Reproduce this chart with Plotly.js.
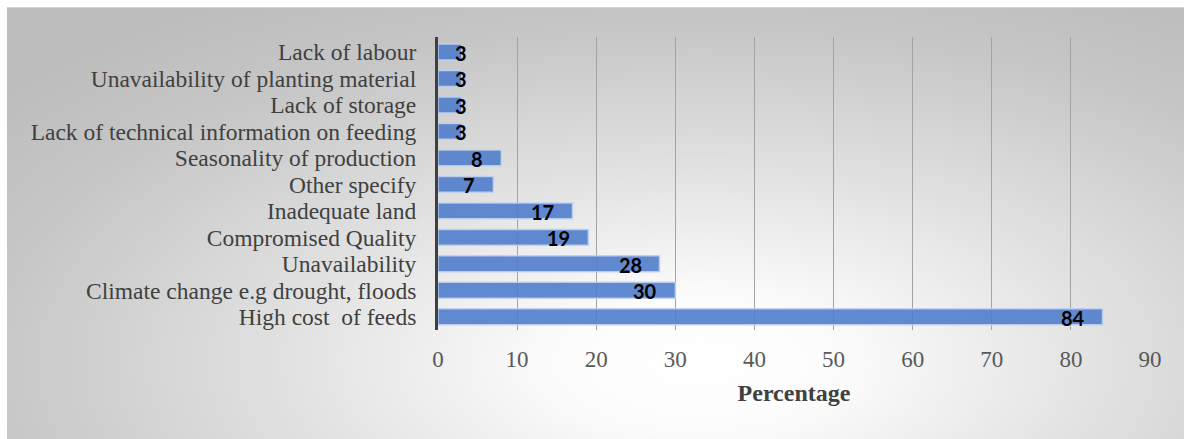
<!DOCTYPE html>
<html>
<head>
<meta charset="utf-8">
<script src="https://cdn.plot.ly/plotly-3.0.1.min.js"></script>
<style>
  html, body { margin: 0; padding: 0; background: #ffffff; overflow: hidden; }
  #frame {
    position: absolute; left: 7px; top: 7px; width: 1190px; height: 445px;
    border-top: 1px solid #d4d4d4; box-sizing: border-box;
    background: radial-gradient(ellipse 75% 95% at 58% 80%, #ffffff 0%, #fcfcfc 15%, #dedede 50%, #c6c6c6 80%, #bdbdbd 100%);
  }
  #chart { position: absolute; left: 0; top: 0; width: 1184px; height: 439px; }
</style>
</head>
<body>
<div id="frame"></div>
<div id="chart"></div>
<script>
// Constraints reported (percentage of respondents), listed top to bottom
const constraints = [
  "Lack of labour",
  "Unavailability of planting material",
  "Lack of storage",
  "Lack of technical information on feeding",
  "Seasonality of production",
  "Other specify",
  "Inadequate land",
  "Compromised Quality",
  "Unavailability",
  "Climate change e.g drought, floods",
  "High cost  of feeds"
];
const percentages = [3, 3, 3, 3, 8, 7, 17, 19, 28, 30, 84];
const xTicks = [0, 10, 20, 30, 40, 50, 60, 70, 80, 90];

const serif = "'Liberation Serif', 'Times New Roman', serif";

// value labels sit just inside the bar end; very short bars keep the label clear of the axis
const labelMinX = 5.9;
const valueLabels = percentages.map((v, i) => ({
  x: Math.max(v, labelMinX),
  y: constraints[i],
  xref: "x", yref: "y",
  text: String(v),
  showarrow: false,
  xanchor: "right",
  yanchor: "middle",
  xshift: -16,
  yshift: -1,
  font: { family: "Lato, 'Open Sans', sans-serif", size: 20, color: "#000000", weight: 700 }
}));

const trace = {
  type: "bar",
  orientation: "h",
  x: percentages,
  y: constraints,
  marker: {
    color: "rgba(80,125,204,0.9)",
    line: { color: "rgba(190,208,240,0.9)", width: 1.5 }
  },
  hoverinfo: "x+y"
};

const layout = {
  width: 1184,
  height: 439,
  margin: { l: 438, r: 34, t: 37, b: 109 },
  paper_bgcolor: "rgba(0,0,0,0)",
  plot_bgcolor: "rgba(0,0,0,0)",
  bargap: 0.4,
  showlegend: false,
  xaxis: {
    range: [0, 90],
    tickvals: xTicks,
    ticktext: xTicks.map(String),
    showgrid: true,
    gridcolor: "#a3a3a3",
    gridwidth: 1,
    zeroline: false,
    showline: false,
    ticks: "",
    ticklabelstandoff: 13,
    tickfont: { family: serif, size: 23, color: "#595959" },
    title: {
      text: "Percentage",
      standoff: 13,
      font: { family: serif, size: 24, color: "#404040", weight: 700 }
    },
    fixedrange: true
  },
  yaxis: {
    autorange: "reversed",
    type: "category",
    tickmode: "array",
    tickvals: constraints,
    ticktext: constraints,
    showgrid: false,
    zeroline: false,
    showline: true,
    linecolor: "#404040",
    linewidth: 3,
    ticks: "",
    ticklabelstandoff: 14,
    ticklabeloverflow: "allow",
    tickfont: { family: serif, size: 23.5, color: "#404040" },
    fixedrange: true
  },
  annotations: valueLabels
};

Plotly.newPlot("chart", [trace], layout, { displayModeBar: false, staticPlot: true });
</script>
</body>
</html>
